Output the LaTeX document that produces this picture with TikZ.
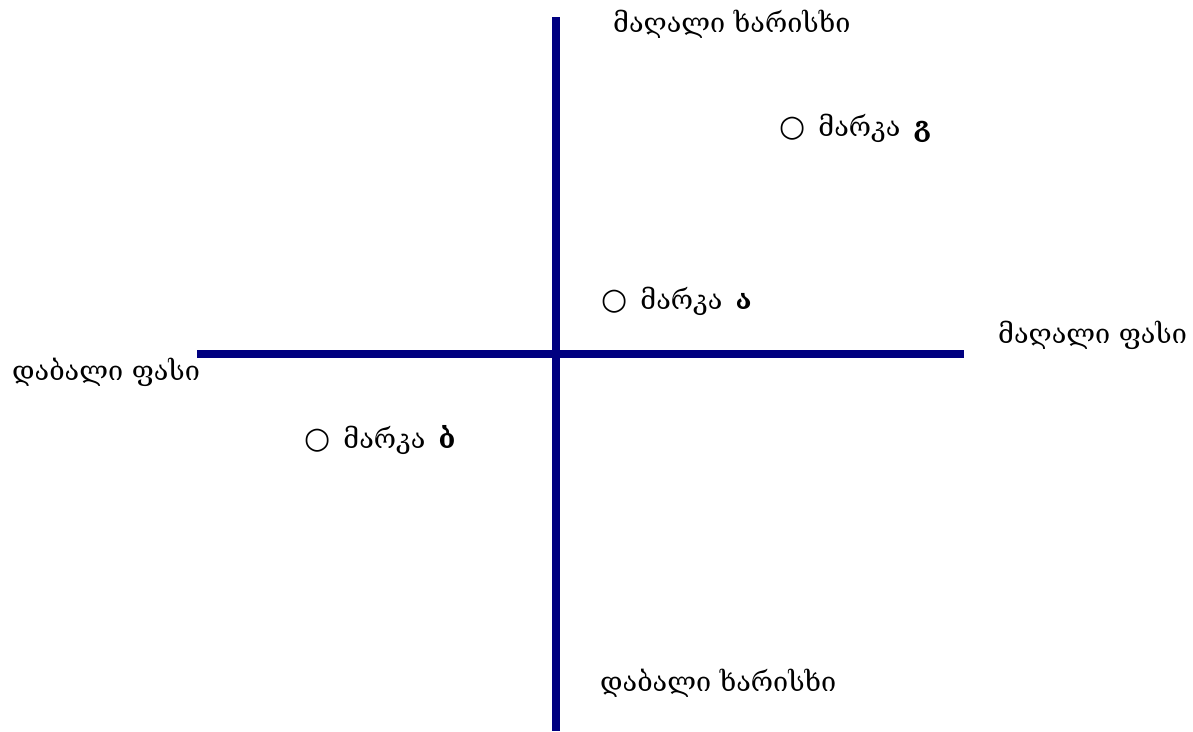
\documentclass[tikz,border=0pt]{standalone}
\usepackage{fontspec}
\setmainfont{DejaVu Serif}
\newfontfamily\symfont{DejaVu Sans}
\definecolor{axisblue}{RGB}{0,0,128}
\begin{document}
\begin{tikzpicture}[x=1pt,y=-1pt,
  axis/.style={draw=axisblue,line width=8pt},
  lbl/.style={anchor=west,inner sep=0pt,font=\fontsize{27}{32}\selectfont},
  brand/.style={anchor=west,inner sep=0pt,font=\fontsize{27}{32}\selectfont}]
\useasboundingbox (0,0) rectangle (1193,731);
\coordinate (vt) at (556,17);
\coordinate (vb) at (556,731);
\coordinate (hl) at (197,354);
\coordinate (hr) at (964,354);
\draw[axis] (vt) -- (vb);
\draw[axis] (hl) -- (hr);
\node[lbl] (hq) at (613,24) {მაღალი ხარისხი};
\node[lbl] (lq) at (600,683) {დაბალი ხარისხი};
\node[lbl] (hp) at (998,335) {მაღალი ფასი};
\node[lbl] (lp) at (12,372) {დაბალი ფასი};
\node[brand] (bg) at (779,128) {{\symfont\fontsize{30}{32}\selectfont ○}\, მარკა\, \textbf{გ}};
\node[brand] (ba) at (601,301) {{\symfont\fontsize{30}{32}\selectfont ○}\, მარკა\, \textbf{ა}};
\node[brand] (bb) at (304,440) {{\symfont\fontsize{30}{32}\selectfont ○}\, მარკა\, \textbf{ბ}};
\end{tikzpicture}
\end{document}
